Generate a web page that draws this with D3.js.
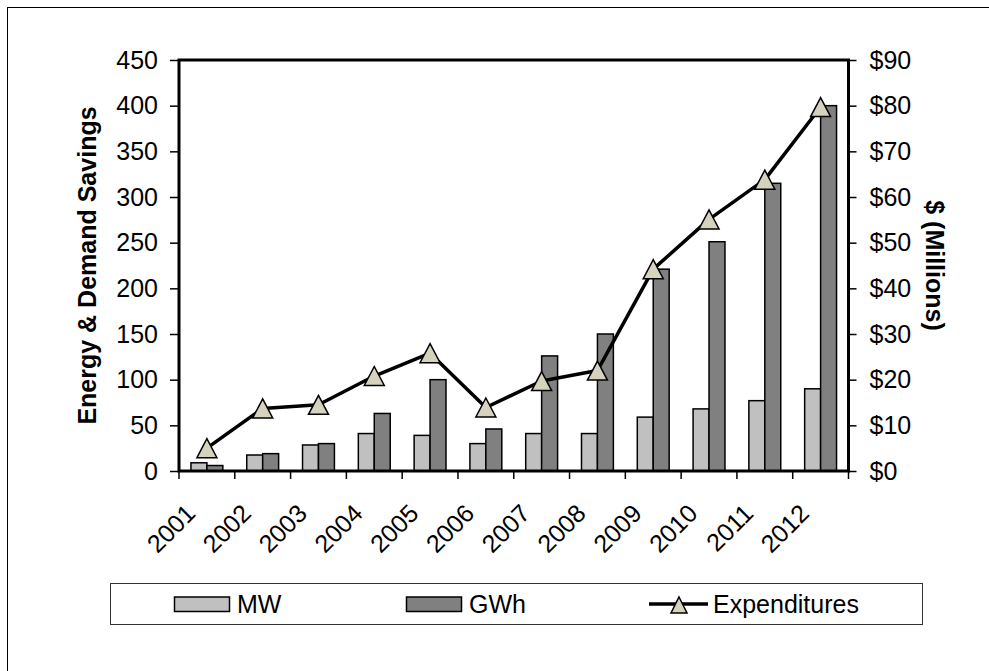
<!DOCTYPE html>
<html>
<head>
<meta charset="utf-8">
<script src="https://cdn.jsdelivr.net/npm/d3@7"></script>
<style>
  html, body { margin: 0; padding: 0; background: #fff; }
  svg { display: block; font-family: "Liberation Sans", Arial, sans-serif; }
</style>
</head>
<body>
<svg id="chart" width="989" height="671"></svg>
<script>
// Program results by year
const years = ["2001","2002","2003","2004","2005","2006","2007","2008","2009","2010","2011","2012"];
const mw = [9, 17.5, 28.5, 41, 39, 30, 41, 41, 59, 68, 77, 90];
const gwh = [6, 19, 30, 63, 100, 46, 126, 150, 221, 251, 315, 400];
const expenditures = [5.0, 13.7, 14.5, 20.8, 25.8, 13.9, 19.7, 22.0, 44.2, 55.1, 63.8, 79.7];
const leftTicks = [0, 50, 100, 150, 200, 250, 300, 350, 400, 450];
const rightTicks = [0, 10, 20, 30, 40, 50, 60, 70, 80, 90];
const seriesNames = ["MW", "GWh", "Expenditures"];

const svg = d3.select("#chart");
const plot = { left: 179, right: 848.5, top: 60, bottom: 471 };
const FS = 25;

// outer chart frame
svg.append("rect")
  .attr("x", 7.5).attr("y", 7.5)
  .attr("width", 1000).attr("height", 700)
  .attr("fill", "none").attr("stroke", "#000").attr("stroke-width", 1);

const x = d3.scaleBand().domain(years).range([plot.left, plot.right]).padding(0);
const yL = d3.scaleLinear().domain([0, 450]).range([plot.bottom, plot.top]);
const yR = d3.scaleLinear().domain([0, 90]).range([plot.bottom, plot.top]);

const bw = x.bandwidth() / 3.5;   // two bars per year, 150% gap

// bars
const g = svg.append("g");
g.selectAll("rect.mw").data(years).join("rect")
  .attr("class", "mw")
  .attr("x", (d) => x(d) + x.bandwidth() / 2 - bw)
  .attr("y", (d, i) => yL(mw[i]))
  .attr("width", bw)
  .attr("height", (d, i) => yL(0) - yL(mw[i]))
  .attr("fill", "#c0c0c0").attr("stroke", "#000").attr("stroke-width", 1.5);
g.selectAll("rect.gwh").data(years).join("rect")
  .attr("class", "gwh")
  .attr("x", (d) => x(d) + x.bandwidth() / 2)
  .attr("y", (d, i) => yL(gwh[i]))
  .attr("width", bw)
  .attr("height", (d, i) => yL(0) - yL(gwh[i]))
  .attr("fill", "#808080").attr("stroke", "#000").attr("stroke-width", 1.5);

// left axis
const axL = svg.append("g").attr("transform", `translate(${plot.left},0)`)
  .call(d3.axisLeft(yL).tickValues(leftTicks).tickSize(9).tickPadding(12));
// right axis
const axR = svg.append("g").attr("transform", `translate(${plot.right},0)`)
  .call(d3.axisRight(yR).tickValues(rightTicks).tickSize(8).tickPadding(13).tickFormat((d) => "$" + d));
// bottom axis: ticks between categories, labels rotated
const axB = svg.append("g").attr("transform", `translate(0,${plot.bottom})`);
const bounds = years.map((d) => x(d)).concat([plot.right]);
axB.selectAll("line").data(bounds).join("line")
  .attr("x1", (d) => d).attr("x2", (d) => d)
  .attr("y1", 0).attr("y2", 8)
  .attr("stroke", "#000").attr("stroke-width", 1.5);
axB.selectAll("text").data(years).join("text")
  .attr("transform", (d) => `translate(${x(d) + x.bandwidth() / 2 - 10},44) rotate(-45)`)
  .attr("text-anchor", "end")
  .attr("font-size", FS)
  .attr("fill", "#000")
  .text((d) => d);

[axL, axR].forEach((a) => {
  a.select(".domain").remove();
  a.selectAll(".tick line").attr("stroke", "#000").attr("stroke-width", 1.5);
  a.selectAll(".tick text").attr("font-size", FS).attr("fill", "#000")
    .attr("font-family", "Liberation Sans, Arial, sans-serif");
});

// plot frame
svg.append("rect")
  .attr("x", plot.left).attr("y", plot.top)
  .attr("width", plot.right - plot.left).attr("height", plot.bottom - plot.top)
  .attr("fill", "none").attr("stroke", "#000").attr("stroke-width", 3);

// expenditures line with triangle markers
const cx = (d) => x(d) + x.bandwidth() / 2;
const line = d3.line().x((d, i) => cx(years[i])).y((d) => yR(d));
svg.append("path").datum(expenditures)
  .attr("d", line).attr("fill", "none")
  .attr("stroke", "#000").attr("stroke-width", 3.5).attr("stroke-linejoin", "round");

const tri = (w, h) => `M0,${-h / 2}L${w / 2},${h / 2}L${-w / 2},${h / 2}Z`;
svg.selectAll("path.marker").data(expenditures).join("path")
  .attr("class", "marker")
  .attr("transform", (d, i) => `translate(${cx(years[i])},${yR(d)})`)
  .attr("d", tri(20, 19))
  .attr("fill", "#d5d2bd").attr("stroke", "#000").attr("stroke-width", 1.5);

// axis titles
svg.append("text")
  .attr("transform", `translate(96,${(plot.top + plot.bottom) / 2}) rotate(-90)`)
  .attr("text-anchor", "middle").attr("font-size", FS).attr("font-weight", "bold")
  .text("Energy & Demand Savings");
svg.append("text")
  .attr("transform", `translate(926,${(plot.top + plot.bottom) / 2}) rotate(90)`)
  .attr("text-anchor", "middle").attr("font-size", FS).attr("font-weight", "bold")
  .text("$ (Millions)");

// legend
const lg = svg.append("g");
lg.append("rect").attr("x", 110.5).attr("y", 583.5).attr("width", 812).attr("height", 41)
  .attr("fill", "#fff").attr("stroke", "#333").attr("stroke-width", 1);
const ly = 604;
lg.append("rect").attr("x", 174.5).attr("y", 597).attr("width", 55).attr("height", 14.5)
  .attr("fill", "#c0c0c0").attr("stroke", "#000").attr("stroke-width", 1.5);
lg.append("text").attr("x", 237).attr("y", ly).attr("dy", "0.36em").attr("font-size", FS).text(seriesNames[0]);
lg.append("rect").attr("x", 406.5).attr("y", 597).attr("width", 55).attr("height", 14.5)
  .attr("fill", "#808080").attr("stroke", "#000").attr("stroke-width", 1.5);
lg.append("text").attr("x", 469).attr("y", ly).attr("dy", "0.36em").attr("font-size", FS).text(seriesNames[1]);
lg.append("line").attr("x1", 649).attr("x2", 708).attr("y1", ly).attr("y2", ly)
  .attr("stroke", "#000").attr("stroke-width", 3.5);
lg.append("path").attr("transform", `translate(679,${ly + 1})`).attr("d", tri(16, 16))
  .attr("fill", "#d5d2bd").attr("stroke", "#000").attr("stroke-width", 1.5);
lg.append("text").attr("x", 713).attr("y", ly).attr("dy", "0.36em").attr("font-size", FS).text(seriesNames[2]);
</script>
</body>
</html>
